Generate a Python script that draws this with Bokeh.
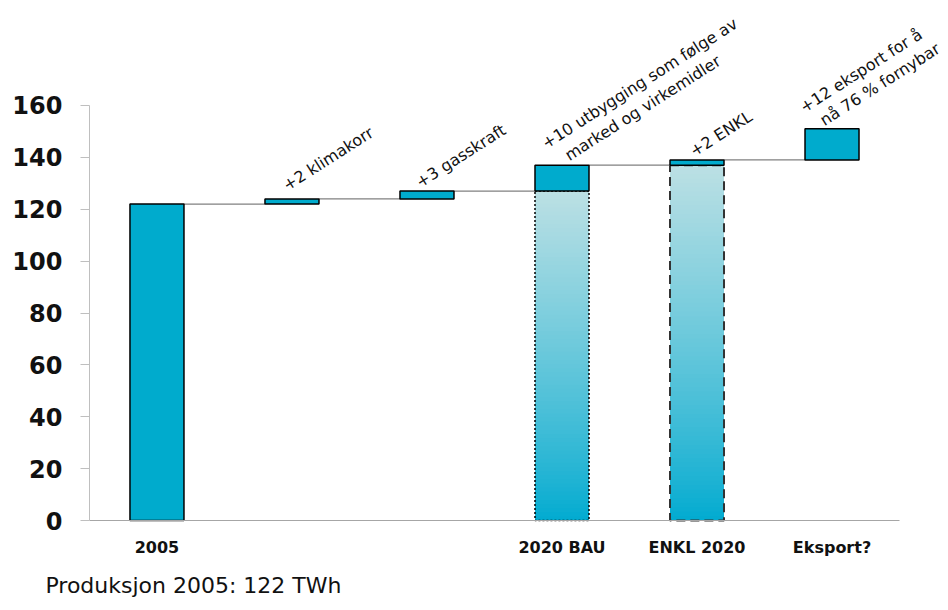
import math
from bokeh.plotting import figure
from bokeh.models import Label, FixedTicker
from bokeh.embed import file_html
from bokeh.resources import INLINE

# ---- data ----
tick_labels = ["2005", "", "", "2020 BAU", "ENKL 2020", "Eksport?"]
base_2005 = 122
increments = [2, 3, 10, 2, 12]
total_bars = {3: 127, 4: 137}          # bar index -> total shown as gradient column
y_ticks = [0, 20, 40, 60, 80, 100, 120, 140, 160]
annotations = [
    (1, ["+2 klimakorr"]),
    (2, ["+3 gasskraft"]),
    (3, ["+10 utbygging som følge av", "marked og virkemidler"]),
    (4, ["+2 ENKL"]),
    (5, ["+12 eksport for å", "nå 76 % fornybar"]),
]
bottom_note = "Produksjon 2005: 122 TWh"

# ---- styles / layout ----
SOLID = "#00ABCD"
FONT = "DejaVu Sans"
BW = 0.4
label_offsets = {
    1: [(-0.056, 4.7)],
    2: [(-0.070, 2.9)],
    3: [(-0.137, 7.9), (0.033, 3.3)],
    4: [(-0.041, 2.9)],
    5: [(-0.226, 7.8), (-0.078, 2.8)],
}
X_LO, X_HI = -1.159, 5.848
Y_LO, Y_HI = -33.92, 200.48
NOTE_X, NOTE_Y = -0.826, -25.1

p = figure(width=946, height=608, x_range=(X_LO, X_HI), y_range=(Y_LO, Y_HI),
           output_backend="svg", toolbar_location=None,
           min_border_left=0, min_border_right=0, min_border_top=0, min_border_bottom=0)
p.outline_line_color = None
p.xgrid.grid_line_color = None
p.ygrid.grid_line_color = None
p.background_fill_color = "white"

bottoms = [0]
tops = [base_2005]
level = base_2005
for inc in increments:
    bottoms.append(level)
    level += inc
    tops.append(level)
xs = list(range(len(tops)))

# gradient columns
c_bot = (0, 170, 208)
c_top = (188, 224, 228)
for i, tot in total_bars.items():
    n = 80
    lefts, rights, bs, ts, cols = [], [], [], [], []
    for k in range(n):
        b = tot * k / n
        t = min(tot, tot * (k + 1) / n + 0.4)
        f = ((k + 0.5) / n) ** 0.85
        c = tuple(int(round(c_bot[j] + (c_top[j] - c_bot[j]) * f)) for j in range(3))
        lefts.append(i - BW / 2); rights.append(i + BW / 2)
        bs.append(b); ts.append(t)
        cols.append("#%02x%02x%02x" % c)
    p.quad(left=lefts, right=rights, bottom=bs, top=ts, fill_color=cols, line_color=None)

p.quad(left=[3 - BW / 2], right=[3 + BW / 2], bottom=[0], top=[total_bars[3]],
       fill_color=None, line_color="black", line_width=1.5, line_dash="2 2")
p.quad(left=[4 - BW / 2], right=[4 + BW / 2], bottom=[0], top=[total_bars[4]],
       fill_color=None, line_color="#333333", line_width=2, line_dash="9 5")

for i in range(len(xs) - 1):
    p.line([xs[i] + BW / 2, xs[i + 1] - BW / 2], [tops[i], tops[i]],
           line_color="#808080", line_width=1.2)

p.quad(left=[x - BW / 2 for x in xs], right=[x + BW / 2 for x in xs],
       bottom=bottoms, top=tops, fill_color=SOLID, line_color="black", line_width=1.5)

ang = math.radians(32.5)
for i, lines in annotations:
    for (dx, dy), txt in zip(label_offsets[i], lines):
        p.add_layout(Label(x=xs[i] + dx, y=tops[i] + dy, text=txt, angle=ang,
                           text_align="left", text_baseline="alphabetic",
                           text_font=FONT, text_font_size="16px", text_color="#111111"))

p.add_layout(Label(x=NOTE_X, y=NOTE_Y, text=bottom_note, text_align="left",
                   text_baseline="middle", text_font=FONT, text_font_size="22px",
                   text_color="#111111"))

p.yaxis.fixed_location = -0.5
p.yaxis.ticker = FixedTicker(ticks=y_ticks)
p.yaxis.bounds = (0, 160)
p.yaxis.axis_line_color = "#BFBFBF"
p.yaxis.major_tick_line_color = "#BFBFBF"
p.yaxis.major_tick_out = 9
p.yaxis.major_tick_in = 0
p.yaxis.minor_tick_line_color = None
p.yaxis.major_label_standoff = 18
p.yaxis.major_label_text_font = FONT
p.yaxis.major_label_text_font_style = "bold"
p.yaxis.major_label_text_font_size = "24px"
p.yaxis.major_label_text_color = "#111111"

p.xaxis.fixed_location = 0
p.xaxis.ticker = FixedTicker(ticks=[i for i, t in enumerate(tick_labels) if t])
p.xaxis.major_label_overrides = {i: t for i, t in enumerate(tick_labels) if t}
p.xaxis.bounds = (-0.5, 5.5)
p.xaxis.axis_line_color = "#A6A6A6"
p.xaxis.major_tick_line_color = None
p.xaxis.minor_tick_line_color = None
p.xaxis.major_tick_out = 0
p.xaxis.major_tick_in = 0
p.xaxis.major_label_standoff = 17
p.xaxis.major_label_text_font = FONT
p.xaxis.major_label_text_font_style = "bold"
p.xaxis.major_label_text_font_size = "16px"
p.xaxis.major_label_text_color = "#111111"

open("out.html", "w").write(file_html(p, INLINE))
